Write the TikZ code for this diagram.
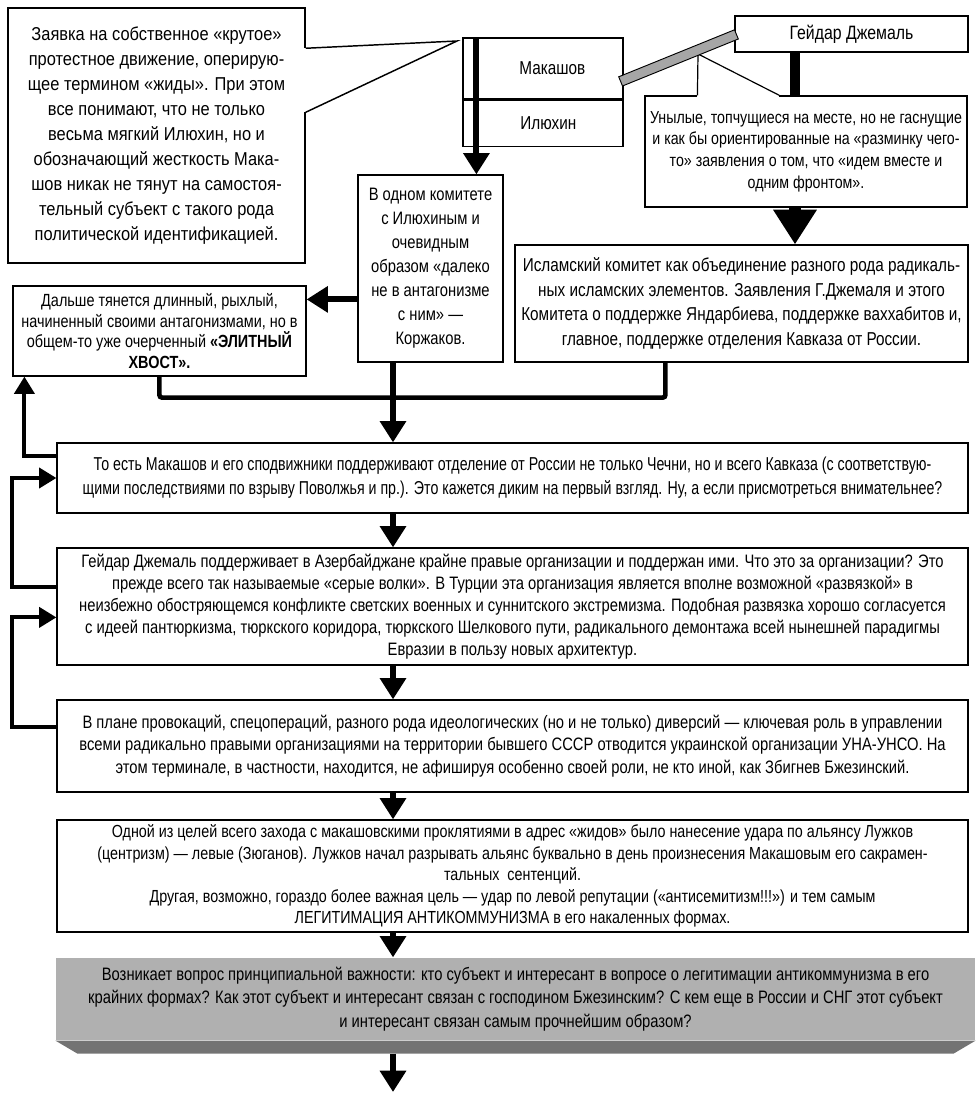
\documentclass[tikz,border=0pt]{standalone}
\usepackage{fontspec}
\setmainfont[FakeStretch=0.82]{Liberation Sans}
\newfontfamily\narrowfont[FakeStretch=0.76]{Liberation Sans}
\newfontfamily\widerfont[FakeStretch=0.88]{Liberation Sans}
\usetikzlibrary{arrows.meta,calc}
\definecolor{slabface}{RGB}{176,176,176}
\definecolor{slabedge}{RGB}{115,115,115}

\tikzset{
  box/.style={draw, line width=0.9pt, fill=white, align=center, inner sep=0pt},
  wh/.style 2 args={minimum width=#1*0.75pt, minimum height=#2*0.75pt},
  fatarrow/.style={line width=4.5pt, -{Triangle[width=19pt,length=16pt]}},
  hugearrow/.style={line width=9pt, -{Triangle[width=31pt,length=26pt]}},
  backarrow/.style={line width=3pt, -{Triangle[width=15pt,length=13pt]}},
  joinline/.style={line width=3.5pt},
}

\begin{document}
\begin{tikzpicture}[x=0.75pt,y=0.75pt,yscale=-1,xscale=1]
        \useasboundingbox (0,0) rectangle (978,1094);

        %Callout: Makashov / Ilyukhin
        \node[box, line width=1.1pt, wh={297}{255}, font=\widerfont\fontsize{14}{18.75}\selectfont] (c1) at (156.5,135.5) {Заявка на собственное «крутое»\\протестное движение, оперирую-\\щее термином «жиды». При этом\\все понимают, что не только\\весьма мягкий Илюхин, но и\\обозначающий жесткость Мака-\\шов никак не тянут на самостоя-\\тельный субъект с такого рода\\политической идентификацией.};
        \coordinate (mtip) at (457,41);
        \fill[white] ($(c1.north east)+(-1.5,41)$) rectangle ($(c1.north east)+(1.5,105)$);
        \draw[line width=1.1pt] ($(c1.north east)+(0,41)$) -- (mtip) -- ($(c1.north east)+(0,105)$);

        %Makashov and Ilyukhin
        \node[box, wh={160}{61}, font=\fontsize{14}{17}\selectfont] (mk) at (543,68.5) {\hspace{14pt}Макашов};
        \node[box, wh={160}{46}, anchor=north, font=\fontsize{14}{17}\selectfont] (il) at (mk.south) {\hspace{8pt}Илюхин};

        %Korzhakov
        \node[box, wh={145}{187}, font=\fontsize{13.5}{18}\selectfont] (km) at (430.5,268.5) {В одном комитете\\с Илюхиным и\\очевидным\\образом «далеко\\не в антагонизме\\с ним» —\\Коржаков.};
        \coordinate (ax1) at ($(mk.north west)+(14,0)$);
        \draw[fatarrow] (ax1) -- (ax1 |- km.north);

        %elite tail
        \node[box, wh={293}{90}, font=\fontsize{13.2}{15.5}\selectfont] (dl) at (159.5,331) {Дальше тянется длинный, рыхлый,\\начиненный своими антагонизмами, но в\\общем-то уже очерченный \textbf{«ЭЛИТНЫЙ}\\\textbf{ХВОСТ».}};
        \coordinate (kl) at ($(km.north west)+(0,125)$);
        \draw[fatarrow] (kl) -- (kl -| dl.east);

        %Dzhemal
        \node[box, wh={233}{36}, font=\fontsize{14.5}{17}\selectfont] (gd) at (851.5,34) {Гейдар Джемаль};
        \node[box, wh={322}{111}, font=\fontsize{13}{16.2}\selectfont] (un) at (806,151.5) {Унылые, топчущиеся на месте, но не гаснущие\\и как бы ориентированные на «разминку чего-\\то» заявления о том, что «идем вместе и\\одним фронтом».};
        \coordinate (gx) at (795,0);
        \draw[line width=7.5pt] (gx |- gd.south) -- (gx |- un.north);
        \coordinate (utip) at (698,54);
        \fill[white] ($(un.north west)+(53,1.5)$) rectangle ($(un.north west)+(135,-1.5)$);
        \draw[line width=0.9pt] ($(un.north west)+(53,0)$) -- (utip) -- ($(un.north west)+(135,0)$);

        %Shape: gray bar
        \coordinate (ba) at ($(mk.north east)+(-3,44)$);
        \coordinate (bb) at ($(gd.north west)+(2,19)$);
        \draw[line width=0.7pt, fill=gray!70] ($(ba)+(-1.9,-4.6)$) -- ($(bb)+(-1.9,-4.6)$) -- ($(bb)+(1.9,4.6)$) -- ($(ba)+(1.9,4.6)$) -- cycle;

        %Islamic committee
        \node[box, wh={453}{117}, font=\fontsize{14}{18.4}\selectfont] (is) at (741.5,303.5) {Исламский комитет как объединение разного рода радикаль-\\ных исламских элементов. Заявления Г.Джемаля и этого\\Комитета о поддержке Яндарбиева, поддержке ваххабитов и,\\главное, поддержке отделения Кавказа от России.};
        \draw[hugearrow] (gx |- un.south) -- (gx |- is.north);

        %main column
        \node[box, wh={911}{70}, font=\narrowfont\fontsize{14}{18}\selectfont] (b1) at (512.5,478) {То есть Макашов и его сподвижники поддерживают отделение от России не только Чечни, но и всего Кавказа (с соответствую-\\щими последствиями по взрыву Поволжья и пр.). Это кажется диким на первый взгляд. Ну, а если присмотреться внимательнее?};
        \node[box, wh={911}{117}, font=\fontsize{13.5}{16.4}\selectfont] (b2) at (512.5,606.5) {Гейдар Джемаль поддерживает в Азербайджане крайне правые организации и поддержан ими. Что это за организации? Это\\прежде всего так называемые «серые волки». В Турции эта организация является вполне возможной «развязкой» в\\неизбежно обостряющемся конфликте светских военных и суннитского экстремизма. Подобная развязка хорошо согласуется\\с идеей пантюркизма, тюркского коридора, тюркского Шелкового пути, радикального демонтажа всей нынешней парадигмы\\Евразии в пользу новых архитектур.};
        \node[box, wh={911}{92}, font=\fontsize{13.5}{17}\selectfont] (b3) at (512.5,746) {В плане провокаций, спецопераций, разного рода идеологических (но и не только) диверсий — ключевая роль в управлении\\всеми радикально правыми организациями на территории бывшего СССР отводится украинской организации УНА-УНСО. На\\этом терминале, в частности, находится, не афишируя особенно своей роли, не кто иной, как Збигнев Бжезинский.};
        \node[box, wh={911}{112}, font=\fontsize{13.1}{16.2}\selectfont] (b4) at (512.5,876) {Одной из целей всего захода с макашовскими проклятиями в адрес «жидов» было нанесение удара по альянсу Лужков\\(центризм) — левые (Зюганов). Лужков начал разрывать альянс буквально в день произнесения Макашовым его сакрамен-\\тальных\ \ сентенций.\\Другая, возможно, гораздо более важная цель — удар по левой репутации («антисемитизм!!!») и тем самым\\ЛЕГИТИМАЦИЯ АНТИКОММУНИЗМА в его накаленных формах.};
        \node[box, wh={919}{82}, fill=slabface, draw=none, font=\fontsize{13.5}{17.6}\selectfont] (gb) at (515.5,999) {Возникает вопрос принципиальной важности: кто субъект и интересант в вопросе о легитимации антикоммунизма в его\\крайних формах? Как этот субъект и интересант связан с господином Бжезинским? С кем еще в России и СНГ этот субъект\\и интересант связан самым прочнейшим образом?};
        %Shape: bevel under the gray box
        \fill[slabedge] (gb.south west) -- (gb.south east) -- ($(gb.south east)+(-22,13)$) -- ($(gb.south west)+(22,13)$) -- cycle;

        \coordinate (ax) at (393,0);
        \draw[joinline, rounded corners=2] ($(dl.south west)+(147,0)$) |- ($(is.south west)+(151,35)$) -- ($(is.south west)+(151,0)$);
        \draw[fatarrow] (ax |- km.south) -- (ax |- b1.north);
        \foreach \a/\b in {b1/b2,b2/b3,b3/b4,b4/gb}
          \draw[fatarrow] (ax |- \a.south) -- (ax |- \b.north);
        \coordinate (gend) at (393,1092);
        \draw[fatarrow] ($(ax |- gb.south)+(0,13)$) -- (gend);

        %feedback arrows on the left
        \draw[backarrow] ($(b1.north west)+(0,14)$) -| ($(dl.south west)+(12,0)$);
        \draw[backarrow] ($(b2.north west)+(0,40)$) -- ++(-44,0) |- (b1.west);
        \draw[backarrow] ($(b3.north west)+(0,28)$) -- ++(-44,0) |- ($(b2.north west)+(0,70)$);
\end{tikzpicture}
\end{document}
